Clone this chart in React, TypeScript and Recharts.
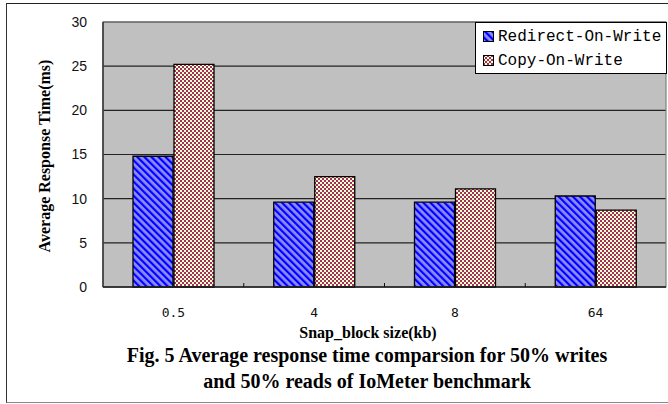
import React from 'react';
import {
  BarChart,
  Bar,
  XAxis,
  YAxis,
  CartesianGrid,
  Legend,
  ReferenceArea,
} from 'recharts';

const categories = ['0.5', '4', '8', '64'];
const redirectOnWrite = [14.8, 9.6, 9.6, 10.3];
const copyOnWrite = [25.2, 12.5, 11.1, 8.7];
const yTicks = [0, 5, 10, 15, 20, 25, 30];

const seriesNames = ['Redirect-On-Write', 'Copy-On-Write'];

const data = categories.map((size, i) => ({
  size,
  row: redirectOnWrite[i],
  cow: copyOnWrite[i],
}));

const W = 668;
const H = 404;
const MARGIN = { top: 22, right: 2, left: 0, bottom: 87 };
const Y_AXIS_W = 103;
const X_AXIS_H = 30;
const PLOT_W = W - MARGIN.left - MARGIN.right - Y_AXIS_W;
const BAND = PLOT_W / categories.length;

const serif = '"Liberation Serif", "Times New Roman", serif';
const mono = '"Liberation Mono", "DejaVu Sans Mono", monospace';

function XTick(props: any) {
  const { x, y, payload, index } = props;
  const edge = x + BAND / 2;
  return (
    <g>
      <text
        x={x}
        y={y + 25}
        textAnchor="middle"
        dominantBaseline="central"
        fontFamily='"DejaVu Sans Mono", monospace'
        fontSize={13}
        fill="#111"
      >
        {payload.value}
      </text>
      {index < categories.length - 1 && (
        <line x1={edge} x2={edge} y1={y} y2={y - 4} stroke="#111" strokeWidth={1} />
      )}
    </g>
  );
}

function LegendBox() {
  const fills = ['url(#rowHatch)', 'url(#cowCheck)'];
  return (
    <div
      style={{
        width: 190,
        height: 48,
        border: '1px solid #000',
        background: '#fff',
        paddingTop: 2,
        boxSizing: 'content-box',
      }}
    >
      {seriesNames.map((name, i) => (
        <div
          key={name}
          style={{ display: 'flex', alignItems: 'center', height: 24, paddingLeft: 7 }}
        >
          <svg width={12} height={12} style={{ marginRight: 3 }}>
            <rect x={0.5} y={0.5} width={10} height={10} fill={fills[i]} stroke="#000" />
          </svg>
          <span style={{ fontFamily: mono, fontSize: 16, color: '#000', lineHeight: '16px' }}>
            {name}
          </span>
        </div>
      ))}
    </div>
  );
}

export default function App() {
  return (
    <div
      style={{
        position: 'absolute',
        left: 0,
        top: 0,
        width: W,
        height: H,
        background: '#fff',
        overflow: 'hidden',
      }}
    >
      <div
        style={{
          position: 'absolute',
          left: 6,
          top: 3,
          width: W,
          height: 398,
          borderLeft: '1px solid #333',
          borderTop: '1px solid #222',
          borderBottom: '1px solid #888',
        }}
      />
      <BarChart
        width={W}
        height={H}
        data={data}
        margin={MARGIN}
        barSize={40}
        barGap={1}
        style={{ position: 'absolute', left: 0, top: 0 }}
      >
        <defs>
          <pattern
            id="rowHatch"
            width={5}
            height={5}
            patternUnits="userSpaceOnUse"
            patternTransform="rotate(-45)"
          >
            <rect width={5} height={5} fill="#8c8cff" />
            <rect width={2.2} height={5} fill="#0000ff" />
          </pattern>
          <pattern id="cowCheck" width={4} height={4} patternUnits="userSpaceOnUse">
            <rect width={4} height={4} fill="#ffffcc" />
            <rect x={0} y={0} width={2} height={2} fill="#a0305f" />
            <rect x={2} y={2} width={2} height={2} fill="#a0305f" />
          </pattern>
        </defs>
        <CartesianGrid
          vertical={false}
          fill="#c0c0c0"
          stroke="#222"
          strokeWidth={1.2}
          strokeOpacity={1}
        />
        <ReferenceArea
          x1={categories[0]}
          x2={categories[categories.length - 1]}
          y1={0}
          y2={30}
          fill="none"
          stroke="#808080"
          strokeWidth={1.2}
          fillOpacity={0}
        />
        <XAxis
          dataKey="size"
          height={X_AXIS_H}
          tickSize={0}
          tickMargin={0}
          tickLine={false}
          axisLine={{ stroke: '#222', strokeWidth: 1.5 }}
          tick={<XTick />}
          interval={0}
        />
        <YAxis
          width={Y_AXIS_W}
          domain={[0, 30]}
          ticks={yTicks}
          interval={0}
          tickSize={0}
          tickMargin={16}
          tickLine={false}
          axisLine={{ stroke: '#333', strokeWidth: 1.5 }}
          tick={{ fontFamily: '"Liberation Sans", Arial, sans-serif', fontSize: 14, fill: '#111' }}
        />
        <Legend
          layout="horizontal"
          align="center"
          verticalAlign="middle"
          wrapperStyle={{ left: 475, top: 22, width: 192 }}
          content={() => <LegendBox />}
        />
        <Bar
          dataKey="row"
          name={seriesNames[0]}
          fill="url(#rowHatch)"
          stroke="#000"
          strokeWidth={1.3}
          isAnimationActive={false}
        />
        <Bar
          dataKey="cow"
          name={seriesNames[1]}
          fill="url(#cowCheck)"
          stroke="#000"
          strokeWidth={1.3}
          isAnimationActive={false}
        />
      </BarChart>
      <div
        style={{
          position: 'absolute',
          left: 45 - 120,
          top: 156 - 10,
          width: 240,
          height: 20,
          lineHeight: '20px',
          textAlign: 'center',
          transform: 'rotate(-90deg)',
          fontFamily: serif,
          fontWeight: 'bold',
          fontSize: 16,
          color: '#000',
        }}
      >
        Average Response Time(ms)
      </div>
      <div
        style={{
          position: 'absolute',
          left: 368 - 150,
          top: 333 - 10,
          width: 300,
          height: 20,
          lineHeight: '20px',
          textAlign: 'center',
          fontFamily: serif,
          fontWeight: 'bold',
          fontSize: 16,
          color: '#000',
        }}
      >
        Snap_block size(kb)
      </div>
      <div
        style={{
          position: 'absolute',
          left: 367 - 300,
          top: 355 - 13,
          width: 600,
          textAlign: 'center',
          fontFamily: serif,
          fontWeight: 'bold',
          fontSize: 20,
          lineHeight: '26px',
          color: '#000',
        }}
      >
        <div>Fig. 5 Average response time comparsion for 50% writes</div>
        <div>and 50% reads of IoMeter benchmark</div>
      </div>
    </div>
  );
}
